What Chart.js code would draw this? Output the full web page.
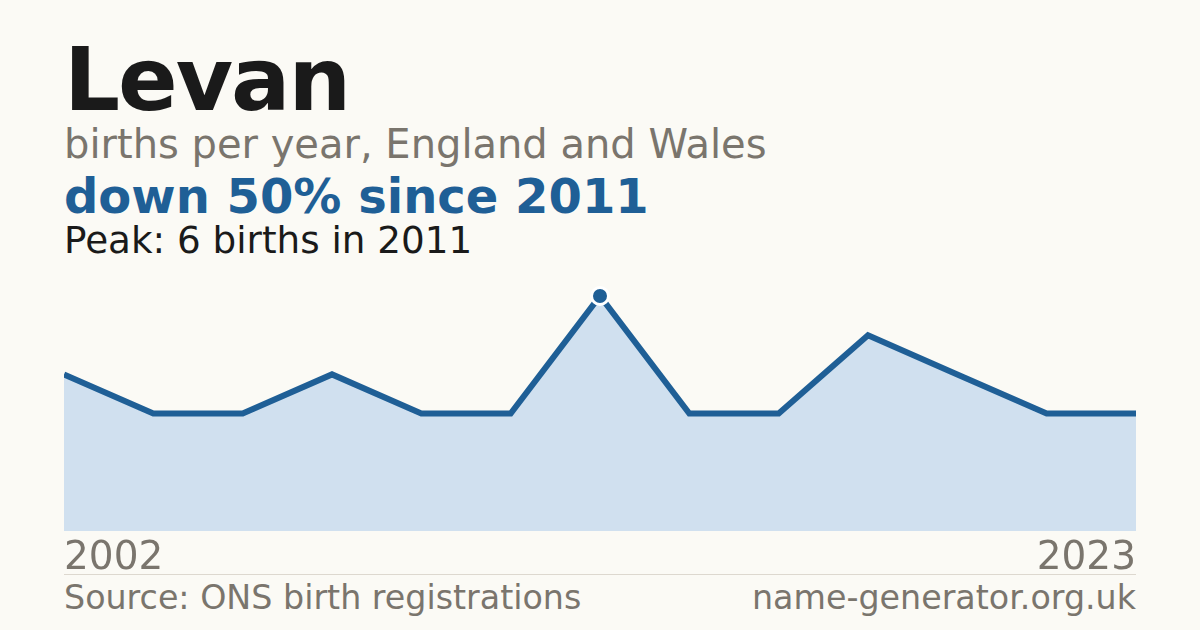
<!DOCTYPE html>
<html>
<head>
<meta charset="utf-8">
<script src="https://cdn.jsdelivr.net/npm/chart.js@4.4.1/dist/chart.umd.min.js"></script>
<style>
  html, body { margin: 0; padding: 0; }
  body {
    width: 1200px; height: 630px; overflow: hidden;
    background: #fbfaf5;
    font-family: "DejaVu Sans", sans-serif;
    position: relative;
  }
  .txt { position: absolute; left: 64px; white-space: nowrap; line-height: 1; }
  #title { top: 36px; font-size: 88px; font-weight: bold; color: #1a1a1a; letter-spacing: -2px; }
  #sub { top: 124px; font-size: 40px; color: #7a756d; }
  #delta { top: 172px; font-size: 48px; font-weight: bold; color: #1f5f96; }
  #peak { top: 222px; font-size: 37.3px; color: #1a1a1a; }
  #wrap { position: absolute; left: 64px; top: 284px; width: 1072px; height: 294px; }
  #sep { position: absolute; left: 64px; top: 574px; width: 1072px; height: 1px; background: #ddd8cf; }
  .foot { position: absolute; top: 581px; font-size: 33.3px; color: #7a756d; line-height: 1; white-space: nowrap; }
  #src { left: 64px; }
  #site { right: 64px; }
</style>
</head>
<body>
<div class="txt" id="title">Levan</div>
<div class="txt" id="sub">births per year, England and Wales</div>
<div class="txt" id="delta">down 50% since 2011</div>
<div class="txt" id="peak">Peak: 6 births in 2011</div>
<div id="wrap"><canvas id="chart"></canvas></div>
<div id="sep"></div>
<div class="foot" id="src">Source: ONS birth registrations</div>
<div class="foot" id="site">name-generator.org.uk</div>

<script>
/* =========================
    DATA
========================= */

// Jahre mit gemeldeten Geburten (nur erster + letzter werden angezeigt)
const years = ["2002", "2003", "2004", "2006", "2008", "2009", "2011",
               "2013", "2015", "2017", "2019", "2021", "2023"];

// Geburten pro Jahr
const births = [4, 3, 3, 4, 3, 3, 6, 3, 3, 5, 4, 3, 3];

// Peak (2011)
const peakIndex = 6;

const BLUE = "#1f5f96";
const FILL = "#d0e0ef";
const GREY = "#7a756d";


/* =========================
    CHART
========================= */

new Chart(document.getElementById("chart"), {
  type: "line",
  data: {
    labels: years,
    datasets: [{
      data: births,
      borderColor: BLUE,
      borderWidth: 6,
      backgroundColor: FILL,
      fill: "origin",
      tension: 0,
      clip: false,
      pointRadius: births.map((v, i) => i === peakIndex ? 8.5 : 0),
      pointBackgroundColor: BLUE,
      pointBorderColor: "#ffffff",
      pointBorderWidth: 3,
      pointHoverRadius: 0
    }]
  },
  options: {
    responsive: true,
    maintainAspectRatio: false,
    animation: false,
    layout: { padding: { top: 12, left: 0, right: 0, bottom: 0 } },
    plugins: {
      legend: { display: false },
      tooltip: { enabled: false }
    },
    scales: {
      x: {
        offset: false,
        grid: { display: false },
        border: { display: false },
        ticks: {
          autoSkip: false,
          maxRotation: 0,
          align: "inner",
          padding: -4,
          color: GREY,
          font: { family: "DejaVu Sans", size: 39 },
          callback: (v, i) => (i === 0 || i === years.length - 1) ? years[i] : ""
        }
      },
      y: {
        display: false,
        min: 0,
        max: 6
      }
    }
  }
});
</script>
</body>
</html>
